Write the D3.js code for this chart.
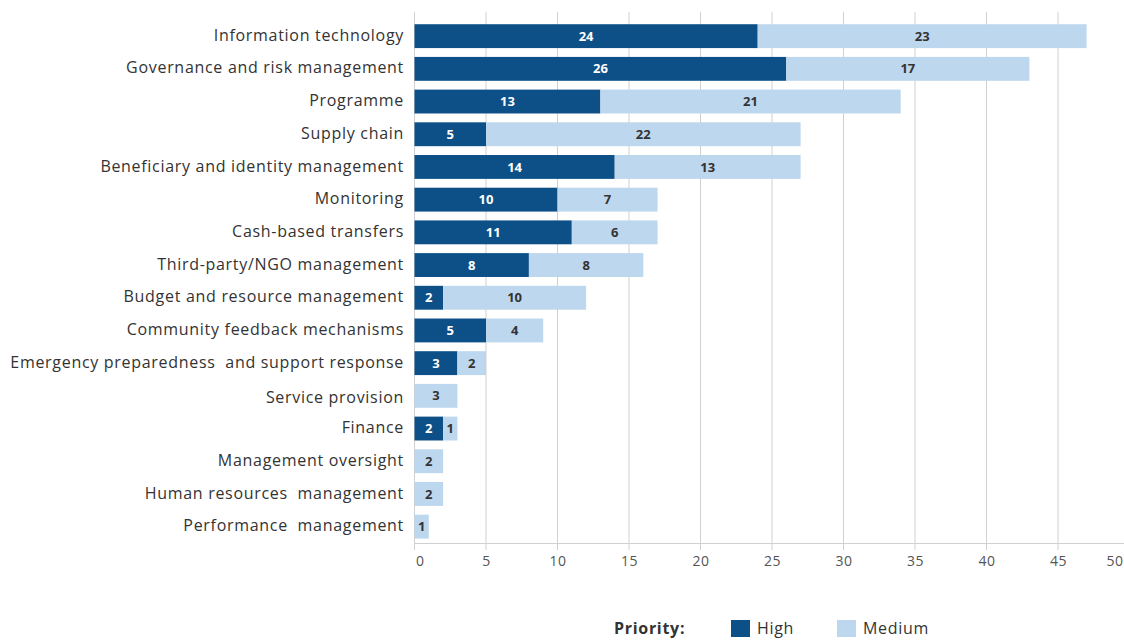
<!DOCTYPE html>
<html>
<head>
<meta charset="utf-8">
<script src="https://cdn.jsdelivr.net/npm/d3@7"></script>
<style>
  body { margin: 0; background: #fff; }
  svg { display: block; font-family: "Open Sans", sans-serif; }
</style>
</head>
<body>
<svg id="chart" width="1124" height="640"></svg>
<script>
// Chart data
const categories = [
    'Information technology', 'Governance and risk management', 'Programme',
    'Supply chain', 'Beneficiary and identity management', 'Monitoring',
    'Cash-based transfers', 'Third-party/NGO management',
    'Budget and resource management', 'Community feedback mechanisms',
    'Emergency preparedness  and support response', 'Service provision',
    'Finance', 'Management oversight', 'Human resources  management',
    'Performance  management'
];
const highValues   = [24, 26, 13, 5, 14, 10, 11, 8, 2, 5, 3, 0, 2, 0, 0, 0];
const mediumValues = [23, 17, 21, 22, 13, 7, 6, 8, 10, 4, 2, 3, 1, 2, 2, 1];
const xTicks = [0, 5, 10, 15, 20, 25, 30, 35, 40, 45, 50];
const seriesNames = ['High', 'Medium'];

const colors = { High: '#0d4f87', Medium: '#bdd7ee' };

const svg = d3.select('#chart');
const W = 1124;

// Scales
const x = d3.scaleLinear().domain([0, 50]).range([414.5, 1129.5]);
const y = d3.scaleBand()
    .domain(categories)
    .range([19.8, 543])
    .paddingInner(0.27)
    .paddingOuter(0.135);

// Gridlines
svg.append('g')
    .selectAll('line')
    .data(xTicks)
    .enter()
    .append('line')
    .attr('x1', d => x(d)).attr('x2', d => x(d))
    .attr('y1', 12).attr('y2', 550)
    .attr('stroke', '#d0d0d0')
    .attr('stroke-width', 1);

// Axis baseline
svg.append('line')
    .attr('x1', x(0)).attr('x2', W)
    .attr('y1', 543.5).attr('y2', 543.5)
    .attr('stroke', '#d0d0d0');

// Tick labels (kept inside the plot edges like the original)
const xAxis = d3.axisBottom(x).tickValues(xTicks).tickSize(0).tickPadding(0);
const axisG = svg.append('g').attr('transform', 'translate(0,556)').call(xAxis);
axisG.select('.domain').remove();
axisG.selectAll('text')
    .attr('dy', '0.71em')
    .attr('font-size', 14)
    .attr('letter-spacing', 0.5)
    .attr('font-family', '"Open Sans", sans-serif')
    .attr('fill', '#555')
    .each(function(d) {
        const half = this.getBBox().width / 2;
        const px = x(d);
        const cx = Math.max(x(0) + half + 1, Math.min(W - half - 1, px));
        d3.select(this).attr('x', cx - px);
    });

// Stacked data
const rows = categories.map((c, i) => ({ category: c, High: highValues[i], Medium: mediumValues[i] }));
const stacked = d3.stack().keys(seriesNames)(rows);

const layers = svg.append('g')
    .selectAll('g')
    .data(stacked)
    .enter()
    .append('g')
    .attr('fill', d => colors[d.key]);

layers.selectAll('rect')
    .data(d => d)
    .enter()
    .append('rect')
    .attr('x', d => x(d[0]))
    .attr('y', d => y(d.data.category))
    .attr('width', d => x(d[1]) - x(d[0]))
    .attr('height', y.bandwidth());

// Value labels
stacked.forEach(layer => {
    svg.append('g')
        .selectAll('text')
        .data(layer.filter(d => d[1] - d[0] > 0))
        .enter()
        .append('text')
        .attr('x', d => x((d[0] + d[1]) / 2))
        .attr('y', d => y(d.data.category) + y.bandwidth() / 2)
        .attr('dy', '0.35em')
        .attr('text-anchor', 'middle')
        .attr('font-size', 13)
        .attr('font-weight', 'bold')
        .attr('fill', layer.key === 'High' ? '#fff' : '#333')
        .text(d => d[1] - d[0]);
});

// Category labels
svg.append('g')
    .selectAll('text')
    .data(categories)
    .enter()
    .append('text')
    .attr('x', 404)
    .attr('y', d => y(d) + y.bandwidth() / 2 + (d === 'Service provision' ? 2 : -1))
    .attr('dy', '0.35em')
    .attr('text-anchor', 'end')
    .attr('font-size', 16)
    .attr('letter-spacing', 0.7)
    .attr('fill', '#333')
    .style('white-space', 'pre')
    .text(d => d);

// Legend
const legend = svg.append('g').attr('transform', 'translate(0,628)');
legend.append('text')
    .attr('x', 614).attr('dy', '0.35em')
    .attr('font-size', 16).attr('font-weight', 'bold')
    .attr('letter-spacing', 0.7).attr('fill', '#333')
    .text('Priority:');
const legendX = [731, 837];
seriesNames.forEach((s, i) => {
    legend.append('rect')
        .attr('x', legendX[i]).attr('y', -8)
        .attr('width', 19).attr('height', 17)
        .attr('fill', colors[s]);
    legend.append('text')
        .attr('x', legendX[i] + 26).attr('dy', '0.35em')
        .attr('font-size', 16).attr('letter-spacing', 0.7)
        .attr('fill', '#333')
        .text(s);
});
</script>
</body>
</html>
